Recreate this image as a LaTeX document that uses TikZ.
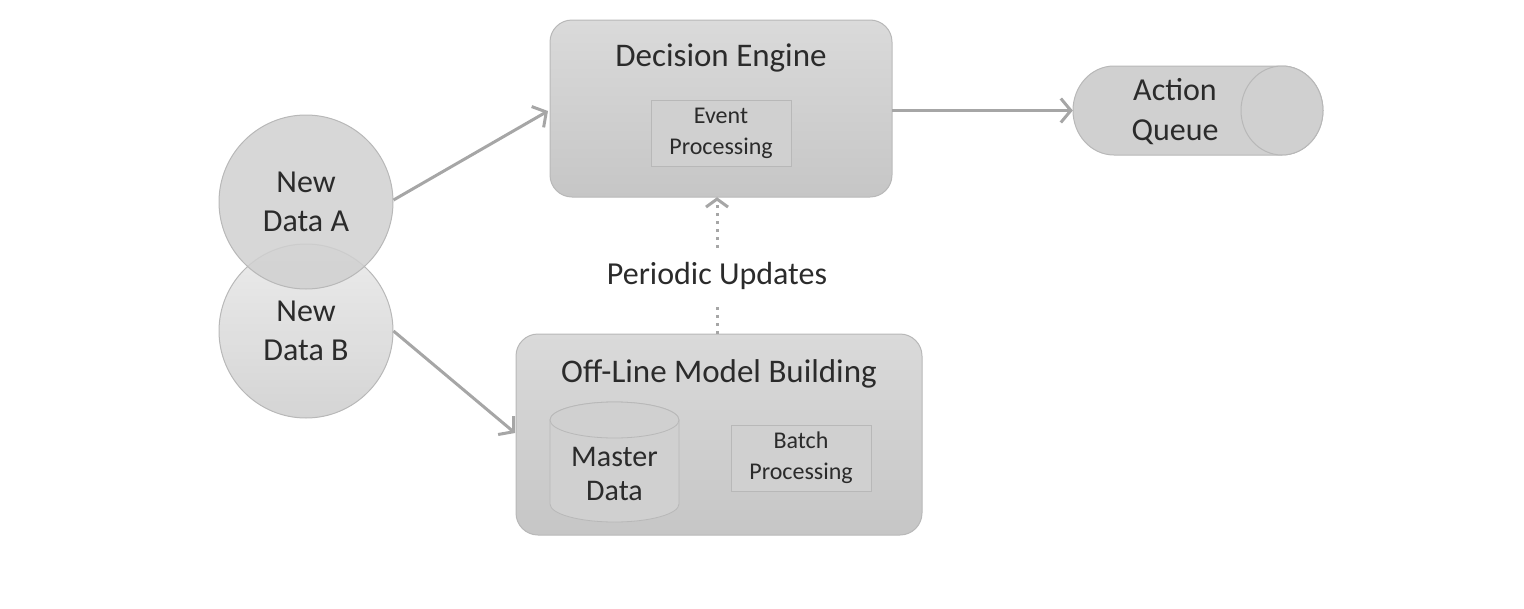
\documentclass[tikz,border=0pt]{standalone}
\usepackage{fontspec}
\setmainfont{Carlito}
\usetikzlibrary{arrows.meta}
\definecolor{boxfill}{HTML}{D0D0D0}
\definecolor{boxtop}{HTML}{DADADA}
\definecolor{boxbot}{HTML}{C6C6C6}
\definecolor{edgec}{HTML}{B8B8B8}
\definecolor{arrowc}{HTML}{A6A6A6}
\definecolor{txt}{HTML}{2B2B2B}
\tikzset{
  bigbox/.style={draw=edgec, line width=1pt, rounded corners=22pt, top color=boxtop, bottom color=boxbot},
  label/.style={text=txt, align=center, inner sep=0pt},
  innerbox/.style={draw=edgec, line width=0.8pt, fill=boxfill, align=center, text=txt, font=\fontsize{24}{31}\selectfont, inner sep=0pt, minimum width=140pt, minimum height=66pt},
  datacircle/.style={circle, draw=edgec, line width=1pt, minimum size=174pt, align=center, text=txt, font=\fontsize{32}{39}\selectfont, inner sep=0pt},
  cylpart/.style={draw=edgec, line width=1pt, fill=boxfill},
  flow/.style={draw=arrowc, line width=3pt, -{Straight Barb[length=10pt,width=24pt,line width=3pt]}},
  dotflow/.style={draw=arrowc, line width=3pt, dash pattern=on 3pt off 5pt, -{Straight Barb[length=8pt,width=22pt,line width=3pt]}},
  dotline/.style={draw=arrowc, line width=3pt, dash pattern=on 3pt off 5pt},
}
\begin{document}
\begin{tikzpicture}[x=1pt,y=-1pt]
\useasboundingbox (0,0) rectangle (1524,608);
% circles
\node[datacircle, top color=boxtop!60!white, bottom color=boxfill, fill opacity=0.9, text opacity=1] (B) at (306,331) {New\\Data B};
\node[datacircle, fill=boxfill, fill opacity=0.85, text opacity=1] (A) at (306,202) {New\\Data A};
% decision engine
\path[bigbox] (550,20) rectangle (892,197);
\node (DE) at (721,108.5) [minimum width=342pt, minimum height=177pt, inner sep=0pt] {};
\node[label, font=\fontsize{33}{40}\selectfont] (DEt) at (721,58) {Decision Engine};
\node[innerbox] (EP) at (721,133) {\raisebox{-3pt}{Event}\\\raisebox{-3pt}{Processing}};
% action queue (horizontal cylinder)
\path[cylpart] (1114,66) -- (1282,66) arc[start angle=-90, end angle=90, x radius=41, y radius=44.5]
  -- (1114,155) arc[start angle=90, end angle=270, x radius=41, y radius=44.5] -- cycle;
\path[cylpart] (1282,110.5) ellipse[x radius=41, y radius=44.5];
\node (AQ) at (1198,110.5) [minimum width=250pt, minimum height=89pt, inner sep=0pt] {};
\node[label, font=\fontsize{32}{40}\selectfont] (AQt) at (1175,112) {Action\\Queue};
% off-line
\path[bigbox] (516,334) rectangle (922,535);
\node (OL) at (719,434.5) [minimum width=406pt, minimum height=201pt, inner sep=0pt] {};
\node[label, font=\fontsize{33}{40}\selectfont] (OLt) at (719,374) {Off-Line Model Building};
% master data (vertical cylinder)
\path[cylpart, line width=0.8pt] (550,420) -- (550,504) arc[start angle=180, end angle=0, x radius=64.5, y radius=18]
  -- (679,420) arc[start angle=0, end angle=-180, x radius=64.5, y radius=18] -- cycle;
\path[cylpart, line width=0.8pt] (614.5,420) ellipse[x radius=64.5, y radius=18];
\node (MD) at (614.5,462) [minimum width=129pt, minimum height=120pt, inner sep=0pt] {};
\node[label, font=\fontsize{30}{34}\selectfont] (MDt) at (614.5,474) {Master\\Data};
\node[innerbox] (BP) at (801,458) {Batch\\Processing};
% periodic updates
\node[label, font=\fontsize{32}{40}\selectfont] (PU) at (717,276) {Periodic Updates};
% connectors
\draw[flow] (A.east) ++(0,-2) coordinate (Aout) -- (548,111) coordinate (DEin);
\draw[flow] (DE.east |- AQ.west) -- (AQ.west);
\draw[flow] (B.east) -- (515,433) coordinate (OLin);
\draw[dotline] (OL.north -| PU) -- ([yshift=-12pt]PU.south);
\draw[dotflow] ([yshift=14pt]PU.north) -- (DE.south -| PU);
\end{tikzpicture}
\end{document}
